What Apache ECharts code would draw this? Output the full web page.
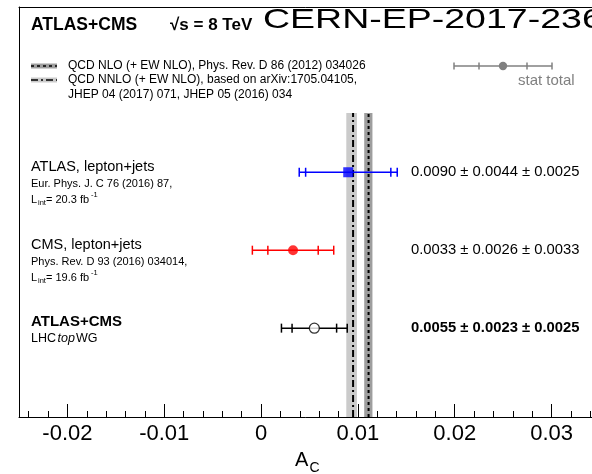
<!DOCTYPE html>
<html><head><meta charset="utf-8">
<script src="https://cdn.jsdelivr.net/npm/echarts@6/dist/echarts.min.js"></script>
<style>html,body{margin:0;padding:0;background:#fff;overflow:hidden}#c{width:592px;height:474px}</style>
</head><body><div id="c"></div>
<script>
// ---- data ----
const experiments = ['ATLAS, lepton+jets', 'CMS, lepton+jets', 'ATLAS+CMS'];
const references = ['Eur. Phys. J. C 76 (2016) 87,', 'Phys. Rev. D 93 (2016) 034014,', 'LHC'];
const lumis = ['= 20.3 fb', '= 19.6 fb', ''];
const centralValues = [0.0090, 0.0033, 0.0055];
const statErrors = [0.0044, 0.0026, 0.0023];
const systErrors = [0.0025, 0.0033, 0.0025];
const rowPositions = [3, 2, 1];
const valueLabels = ['0.0090 ± 0.0044 ± 0.0025', '0.0033 ± 0.0026 ± 0.0033', '0.0055 ± 0.0023 ± 0.0025'];
const predictionNames = ['QCD NLO (+ EW NLO), Phys. Rev. D 86 (2012) 034026',
  'QCD NNLO (+ EW NLO), based on arXiv:1705.04105,'];
const predictionExtra = 'JHEP 04 (2017) 071, JHEP 05 (2016) 034';
const predictionCentral = [0.0111, 0.0095];
const predictionLow = [0.01065, 0.0088];
const predictionHigh = [0.0115, 0.0099];
const xTickLabels = ['-0.02', '-0.01', '0', '0.01', '0.02', '0.03'];
const xTickValues = [-0.02, -0.01, 0, 0.01, 0.02, 0.03];

// ---- styles ----
const colors = ['#0000ff', '#ff0000', '#000000'];
const bandColors = ['#9e9e9e', '#cbcbcb'];
const lineTypes = [[3, 3], [7, 3, 2, 3]];
const FONT = 'Liberation Sans, Arial, Helvetica, sans-serif';
const Y_MIN = -0.14, Y_MAX = 5.12, BAND_TOP = 3.76;

const chart = echarts.init(document.getElementById('c'), null, {renderer: 'canvas'});

const errData = centralValues.map((c, i) => [c, statErrors[i],
  Math.sqrt(statErrors[i] * statErrors[i] + systErrors[i] * systErrors[i]), rowPositions[i]]);
const bandData = predictionCentral.map((c, i) => [predictionLow[i], predictionHigh[i], c, BAND_TOP]);

const markerData = centralValues.map((c, i) => {
  if (i === 0) return {value: [c, rowPositions[i]], symbol: 'rect', symbolSize: 10, itemStyle: {color: colors[0]}};
  if (i === 1) return {value: [c, rowPositions[i]], symbol: 'circle', symbolSize: 10, itemStyle: {color: colors[1]}};
  return {value: [c, rowPositions[i]], symbol: 'circle', symbolSize: 10,
    itemStyle: {color: '#ffffff', borderColor: '#000', borderWidth: 1.3}};
});

function txt(x, y, text, size, opts, extra) {
  opts = opts || {};
  return Object.assign({type: 'text', x: x, y: y, z: 100, style: Object.assign({
    text: text, fontSize: size, fontFamily: FONT, fill: '#000',
    textAlign: 'left', textVerticalAlign: 'middle'}, opts)}, extra || {});
}

const graphics = [];
// header
graphics.push(txt(31, 25, 'ATLAS+CMS', 17.5, {fontWeight: 'bold'}));
graphics.push(txt(170, 25, '√s = 8 TeV', 17, {fontWeight: 'bold'}));
graphics.push(txt(263, 20, 'CERN-EP-2017-236', 37.5, {}, {scaleY: 0.74}));
// prediction legend
const legY = [66, 80];
legY.forEach((y, i) => {
  graphics.push({type: 'rect', z: 100, shape: {x: 31, y: y - 2.5, width: 26, height: 5}, style: {fill: bandColors[i]}});
  graphics.push({type: 'line', z: 101, shape: {x1: 31, y1: y, x2: 57, y2: y},
    style: {stroke: '#000', lineWidth: 1.5, lineDash: lineTypes[i]}});
  graphics.push(txt(68, y, predictionNames[i], 12));
});
graphics.push(txt(68, 95, predictionExtra, 12));
// stat total legend
const gray = '#808080';
graphics.push({type: 'line', z: 100, shape: {x1: 454, y1: 66, x2: 552, y2: 66}, style: {stroke: gray, lineWidth: 1.5}});
[454, 552, 479, 527].forEach(x => graphics.push({type: 'line', z: 100,
  shape: {x1: x, y1: 62.5, x2: x, y2: 69.5}, style: {stroke: gray, lineWidth: 1.5}}));
graphics.push({type: 'circle', z: 101, shape: {cx: 503, cy: 66, r: 4.2}, style: {fill: gray}});
graphics.push(txt(518, 80.5, 'stat total', 15, {fill: gray}));
// experiment labels
const rowY = [167, 245, 322];
experiments.forEach((e, i) => {
  graphics.push(txt(31, rowY[i], e, i === 2 ? 15 : 14.5, i === 2 ? {fontWeight: 'bold'} : {}));
});
graphics.push(txt(31, 183.5, references[0], 11));
graphics.push(txt(31, 262, references[1], 11));
[200, 278].forEach((y, i) => {
  graphics.push(txt(31, y, 'L', 11));
  graphics.push(txt(38, y + 3, 'int', 7.5));
  graphics.push(txt(46, y, lumis[i], 11));
  graphics.push(txt(91, y - 5, '-1', 7.5));
});
graphics.push(txt(31, 339, references[2], 12.5));
graphics.push(txt(57.5, 339, 'top', 12.5, {fontStyle: 'italic'}));
graphics.push(txt(76, 339, 'WG', 12.5));
// value labels
const valY = [171.5, 249.5, 328];
valueLabels.forEach((v, i) => graphics.push(txt(411, valY[i], v, 14.8, i === 2 ? {fontWeight: 'bold'} : {})));
// axis title
graphics.push(txt(295, 460, 'A', 20));
graphics.push(txt(309.5, 468, 'C', 14));

const axisBase = {type: 'value', min: -0.025, max: 0.035, gridIndex: 0, splitLine: {show: false}};
chart.setOption({
  animation: false,
  backgroundColor: '#fff',
  grid: {left: 19, top: 7, right: -8, bottom: 57, show: false, containLabel: false, outerBoundsMode: 'none'},
  xAxis: [Object.assign({}, axisBase, {
    splitNumber: 6, position: 'bottom', z: 5,
    axisLine: {show: true, onZero: false, lineStyle: {color: '#000', width: 1}},
    axisTick: {show: true, inside: true, length: 13, lineStyle: {color: '#000', width: 1}},
    axisLabel: {show: true, margin: 6, fontSize: 22, fontFamily: FONT, color: '#000',
      showMinLabel: true, showMaxLabel: true,
      formatter: v => {
        const k = xTickValues.findIndex(t => Math.abs(t - v) < 1e-9);
        return k >= 0 ? xTickLabels[k] : '';
      }}
  }), Object.assign({}, axisBase, {
    splitNumber: 30, position: 'bottom', z: 5,
    axisLine: {show: false, onZero: false},
    axisTick: {show: true, inside: true, length: 6, lineStyle: {color: '#000', width: 1}},
    axisLabel: {show: false}
  }), Object.assign({}, axisBase, {
    position: 'top', z: 5,
    axisLine: {show: true, onZero: false, lineStyle: {color: '#000', width: 1}},
    axisTick: {show: false}, axisLabel: {show: false}
  })],
  yAxis: {type: 'value', min: Y_MIN, max: Y_MAX, position: 'left', z: 5, splitLine: {show: false},
    axisLine: {show: true, onZero: false, lineStyle: {color: '#000', width: 1}},
    axisTick: {show: false}, axisLabel: {show: false}},
  graphic: graphics,
  series: [
    {
      type: 'custom', name: 'predictions', xAxisIndex: 0, z: 1, data: bandData,
      renderItem: (params, api) => {
        const i = params.dataIndex;
        const a = api.coord([api.value(0), Y_MIN]);
        const b = api.coord([api.value(1), api.value(3)]);
        const c0 = api.coord([api.value(2), Y_MIN]);
        const c1 = api.coord([api.value(2), api.value(3)]);
        return {type: 'group', children: [
          {type: 'rect', shape: {x: a[0], y: b[1], width: b[0] - a[0], height: a[1] - b[1]},
            style: {fill: bandColors[i]}},
          {type: 'line', shape: {x1: c0[0], y1: c0[1], x2: c1[0], y2: c1[1]},
            style: {stroke: '#000', lineWidth: 2, lineDash: lineTypes[i]}}
        ]};
      }
    },
    {
      type: 'custom', name: 'errors', xAxisIndex: 0, z: 3, data: errData,
      renderItem: (params, api) => {
        const i = params.dataIndex;
        const c = api.value(0), st = api.value(1), tot = api.value(2), y = api.value(3);
        const p0 = api.coord([c - tot, y]), p1 = api.coord([c + tot, y]);
        const s0 = api.coord([c - st, y]), s1 = api.coord([c + st, y]);
        const style = {stroke: colors[i], lineWidth: 1.5};
        const h = 4.5;
        const v = x => ({type: 'line', shape: {x1: x, y1: p0[1] - h, x2: x, y2: p0[1] + h}, style: style});
        return {type: 'group', children: [
          {type: 'line', shape: {x1: p0[0], y1: p0[1], x2: p1[0], y2: p1[1]}, style: style},
          v(p0[0]), v(p1[0]), v(s0[0]), v(s1[0])
        ]};
      }
    },
    {
      type: 'scatter', name: 'measurements', xAxisIndex: 0, z: 4, data: markerData
    }
  ]
});
</script>
</body></html>
